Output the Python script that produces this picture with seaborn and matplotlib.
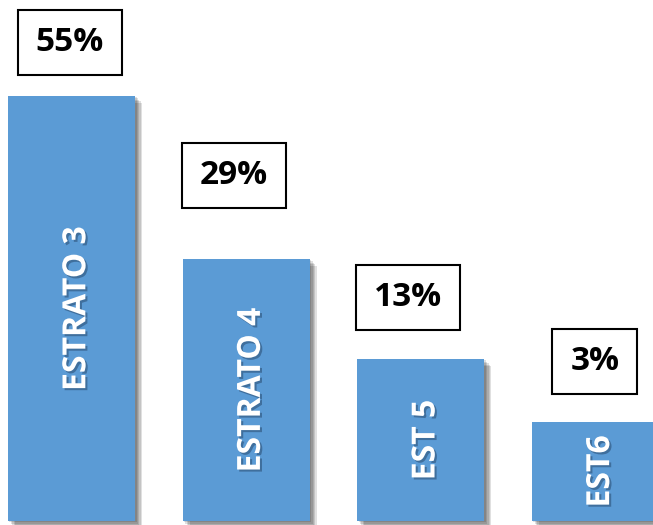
import matplotlib
matplotlib.use("Agg")
import matplotlib.pyplot as plt
import matplotlib.patheffects as pe
from matplotlib.patches import Rectangle
from matplotlib.transforms import IdentityTransform
import seaborn as sns
import pandas as pd

# Share of each stratum
categories = ["ESTRATO 3", "ESTRATO 4", "EST 5", "EST6"]
values = [55, 29, 13, 3]
value_labels = ["55%", "29%", "13%", "3%"]

# Layout: label-box offsets (points) from each bar top, and the common bar base
box_offsets = [(-1.4, 38.4), (-8.6, 59.6), (-9.4, 44.4), (-0.4, 43.0)]
BASE = -12.85
BAR_COLOR = "#5B9BD5"

sns.set_theme(style="white")
plt.rcParams["font.family"] = ["Open Sans", "DejaVu Sans"]

df = pd.DataFrame({"estrato": categories, "share": values})

fig = plt.figure(figsize=(6.53, 5.25), dpi=100)
ax = fig.add_axes([0, 0, 1, 1])
sns.barplot(data=df, x="estrato", y="share", color=BAR_COLOR, saturation=1,
            width=0.728, ax=ax)
ax.set_xlim(-0.41, 3.33)
ax.set_ylim(-13.49, 70.27)
ax.set_axis_off()

# soft drop shadow built from a few faint offset layers
shadow = [pe.SimplePatchShadow(offset=(d, -d), shadow_rgbFace="black", alpha=0.12)
          for d in (1.0, 2.0, 3.0, 4.0, 5.0)] + [pe.Normal()]

for patch, v in zip(ax.patches, values):
    patch.set_y(BASE)
    patch.set_height(v - BASE)
    patch.set_linewidth(0)
    patch.set_path_effects(shadow)

text_shadow = [pe.SimplePatchShadow(offset=(1.5, -1.5), shadow_rgbFace="#1f3a5a", alpha=0.45),
               pe.Normal()]

# stratum names inside the bars
for i, (name, v) in enumerate(zip(categories, values)):
    ax.text(i + 0.03, (v + BASE) / 2, name, rotation=90, ha="center", va="center",
            color="white", fontsize=23, fontweight="bold", path_effects=text_shadow)

# percentage labels in outlined boxes above the bars
labels = []
for i, (lab, v, off) in enumerate(zip(value_labels, values, box_offsets)):
    t = ax.annotate(lab, xy=(i, v), xytext=off, textcoords="offset points",
                    ha="center", va="center", fontsize=24, fontweight="bold",
                    color="black", annotation_clip=False, zorder=6)
    labels.append(t)

fig.canvas.draw()
renderer = fig.canvas.get_renderer()
for t in labels:
    bb = t.get_window_extent(renderer)
    px = 18.0
    py = (65.0 - bb.height) / 2
    rect = Rectangle((bb.x0 - px, bb.y0 - py), bb.width + 2 * px, bb.height + 2 * py,
                     transform=IdentityTransform(), facecolor="white",
                     edgecolor="black", linewidth=1.5, zorder=5, clip_on=False)
    ax.add_patch(rect)

fig.savefig("out.png", dpi=100)
